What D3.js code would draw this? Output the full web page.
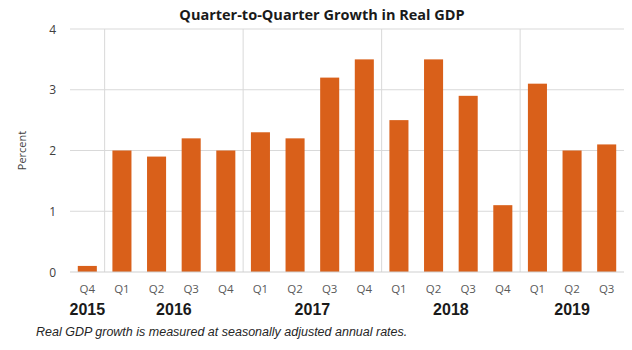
<!DOCTYPE html>
<html><head><meta charset="utf-8">
<script src="https://cdn.jsdelivr.net/npm/d3@7"></script>
<style>body{margin:0;background:#fff}svg{display:block}</style>
</head><body>
<svg id="c" width="632" height="350"></svg>
<script>
const quarters = ["Q4","Q1","Q2","Q3","Q4","Q1","Q2","Q3","Q4","Q1","Q2","Q3","Q4","Q1","Q2","Q3"];
const years = ["2015","2016","2016","2016","2016","2017","2017","2017","2017","2018","2018","2018","2018","2019","2019","2019"];
const growth = [0.1,2.0,1.9,2.2,2.0,2.3,2.2,3.2,3.5,2.5,3.5,2.9,1.1,3.1,2.0,2.1];
const yTicks = [0,1,2,3,4];
const yearLabels = ["2015","2016","2017","2018","2019"];

(function(){
const svg = d3.select("#c");
const font = "'Open Sans', 'Liberation Sans', sans-serif";
const pL = 70, pR = 624, pT = 29, pB = 272;
const idx = d3.range(growth.length);
const x = d3.scaleBand().domain(idx).range([pL, pR]).paddingInner(0.45).paddingOuter(0.225);
const y = d3.scaleLinear().domain([0,4]).range([pB, pT]);

// gridlines
svg.append("g").selectAll("line").data(yTicks.filter(d=>d>0)).join("line")
  .attr("x1", pL).attr("x2", pR).attr("y1", d=>y(d)).attr("y2", d=>y(d))
  .attr("stroke", "#d9d9d9").attr("stroke-width", 1);

// year separators
const step = x.step();
const sepIdx = idx.filter(i => i>0 && years[i] !== years[i-1]);
svg.append("g").selectAll("line").data(sepIdx).join("line")
  .attr("x1", i => x(i) - step*x.paddingInner()/2).attr("x2", i => x(i) - step*x.paddingInner()/2)
  .attr("y1", pT).attr("y2", pB)
  .attr("stroke", "#d9d9d9").attr("stroke-width", 1);

// bars
svg.append("g").selectAll("rect").data(idx).join("rect")
  .attr("x", i => x(i)).attr("width", x.bandwidth())
  .attr("y", i => y(growth[i])).attr("height", i => y(0) - y(growth[i]))
  .attr("fill", "#D9601A");

// baseline
svg.append("line").attr("x1", pL).attr("x2", pR).attr("y1", y(0)).attr("y2", y(0))
  .attr("stroke", "#d0d0d0").attr("stroke-width", 1.2);

// y axis labels
const yAxis = d3.axisLeft(y).tickValues(yTicks).tickSize(0).tickPadding(0).tickFormat(d3.format("d"));
const ya = svg.append("g").attr("transform", `translate(${pL-14},0)`).call(yAxis);
ya.select(".domain").remove();
ya.selectAll("text").attr("font-family", font).attr("font-size", 12).attr("fill", "#404040").attr("dy","0.35em");

// quarter labels
const xAxis = d3.axisBottom(x).tickSize(0).tickPadding(0).tickFormat(i => quarters[i]);
const xa = svg.append("g").attr("transform", `translate(0,${285})`).call(xAxis);
xa.select(".domain").remove();
xa.selectAll("text").attr("font-family", font).attr("font-size", 11.5).attr("fill", "#595959").attr("dy","0.71em");

// year labels
const yearCenters = yearLabels.map(yr => {
  const ii = idx.filter(i => years[i] === yr);
  return {yr, cx: d3.mean(ii, i => x(i) + x.bandwidth()/2)};
});
svg.append("g").selectAll("text").data(yearCenters).join("text")
  .attr("x", d => d.cx).attr("y", 315).attr("text-anchor", "middle")
  .attr("font-family", "'Liberation Sans', Arial, sans-serif").attr("font-weight", "bold").attr("font-size", 16)
  .attr("fill", "#1a1a1a").text(d => d.yr);

// y title
svg.append("text").attr("transform", `translate(26,${(pT+pB)/2}) rotate(-90)`)
  .attr("text-anchor", "middle").attr("font-family", font).attr("font-size", 11).attr("fill", "#404040").text("Percent");

// title
svg.append("text").attr("x", 322).attr("y", 20).attr("text-anchor", "middle")
  .attr("font-family", font).attr("font-weight", "bold").attr("font-size", 14.5).attr("fill", "#1a1a1a")
  .text("Quarter-to-Quarter Growth in Real GDP");

// footnote
svg.append("text").attr("x", 36).attr("y", 336)
  .attr("font-family", "'Liberation Sans', Arial, sans-serif").attr("font-style", "italic").attr("font-size", 12.5).attr("fill", "#262626")
  .text("Real GDP growth is measured at seasonally adjusted annual rates.");
})();
</script>
</body></html>
